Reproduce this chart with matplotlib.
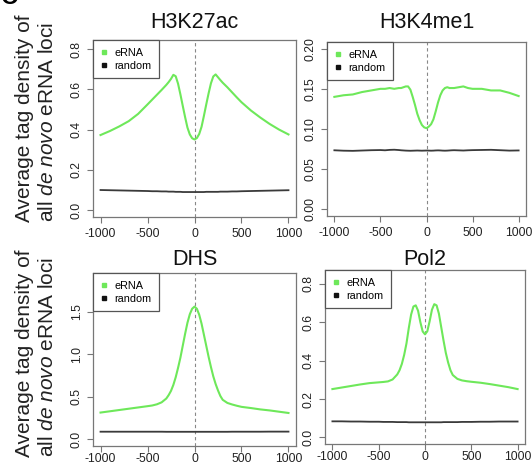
import matplotlib
matplotlib.use("Agg")
import matplotlib.pyplot as plt
from matplotlib.lines import Line2D

plt.rcParams["font.family"] = ["Liberation Sans", "DejaVu Sans"]
plt.rcParams["mathtext.fontset"] = "custom"
plt.rcParams["mathtext.rm"] = "Liberation Sans"
plt.rcParams["mathtext.it"] = "Liberation Sans:italic"
plt.rcParams["axes.unicode_minus"] = False

# Distance from eRNA centre (bp)
positions = [-1000, -900, -800, -700, -600, -500, -450, -400, -350, -300,
             -275, -250, -225, -200, -175, -150, -125, -100, -75, -50, -25,
             0, 25, 50, 75, 100, 125, 150, 175, 200, 225, 250, 275,
             300, 350, 400, 450, 500, 600, 700, 800, 900, 1000]

marks = ["H3K27ac", "H3K4me1", "DHS", "Pol2"]
series_labels = ["eRNA", "random"]

h3k27ac_erna = [0.373, 0.393, 0.416, 0.442, 0.478, 0.525, 0.549, 0.573, 0.597, 0.622,
                0.636, 0.652, 0.672, 0.665, 0.628, 0.575, 0.518, 0.462, 0.410, 0.376, 0.357,
                0.351, 0.358, 0.378, 0.414, 0.468, 0.525, 0.580, 0.630, 0.664, 0.674, 0.660, 0.646,
                0.633, 0.610, 0.585, 0.560, 0.536, 0.495, 0.460, 0.428, 0.400, 0.376]
h3k27ac_random = [0.100, 0.099, 0.098, 0.097, 0.096, 0.095, 0.094, 0.094, 0.093, 0.093,
                  0.092, 0.092, 0.092, 0.091, 0.091, 0.091, 0.090, 0.090, 0.090, 0.090, 0.090,
                  0.090, 0.090, 0.090, 0.090, 0.090, 0.091, 0.091, 0.091, 0.091, 0.091, 0.091, 0.092,
                  0.092, 0.092, 0.093, 0.093, 0.094, 0.095, 0.096, 0.097, 0.098, 0.099]

h3k4me1_erna = [0.140, 0.142, 0.143, 0.146, 0.148, 0.150, 0.150, 0.151, 0.150, 0.151,
                0.151, 0.152, 0.153, 0.153, 0.149, 0.140, 0.130, 0.119, 0.111, 0.105, 0.102,
                0.101, 0.103, 0.106, 0.112, 0.122, 0.133, 0.142, 0.148, 0.151, 0.152, 0.151, 0.151,
                0.151, 0.152, 0.153, 0.151, 0.150, 0.150, 0.148, 0.148, 0.145, 0.141]
h3k4me1_random = [0.0735, 0.0730, 0.0728, 0.0732, 0.0736, 0.0738, 0.0735, 0.0740, 0.0742, 0.0738,
                  0.0735, 0.0733, 0.0731, 0.0730, 0.0729, 0.0730, 0.0731, 0.0732, 0.0731, 0.0730, 0.0731,
                  0.0732, 0.0731, 0.0730, 0.0731, 0.0733, 0.0734, 0.0733, 0.0731, 0.0730, 0.0731, 0.0733, 0.0735,
                  0.0736, 0.0734, 0.0732, 0.0735, 0.0737, 0.0739, 0.0741, 0.0736, 0.0731, 0.0733]

dhs_erna = [0.315, 0.330, 0.345, 0.360, 0.375, 0.390, 0.398, 0.412, 0.435, 0.480,
            0.520, 0.570, 0.640, 0.730, 0.840, 0.960, 1.100, 1.240, 1.370, 1.470, 1.535,
            1.560, 1.535, 1.465, 1.360, 1.230, 1.100, 0.970, 0.850, 0.740, 0.650, 0.575, 0.510,
            0.465, 0.428, 0.410, 0.395, 0.382, 0.368, 0.352, 0.340, 0.325, 0.310]
dhs_random = [0.090, 0.090, 0.090, 0.090, 0.090, 0.090, 0.090, 0.090, 0.090, 0.089,
              0.089, 0.089, 0.089, 0.089, 0.089, 0.089, 0.089, 0.089, 0.089, 0.089, 0.089,
              0.089, 0.089, 0.089, 0.089, 0.089, 0.089, 0.089, 0.089, 0.089, 0.089, 0.089, 0.089,
              0.089, 0.089, 0.090, 0.090, 0.090, 0.090, 0.090, 0.091, 0.091, 0.091]

pol2_erna = [0.252, 0.260, 0.268, 0.276, 0.283, 0.287, 0.289, 0.292, 0.302, 0.328,
             0.350, 0.383, 0.430, 0.490, 0.570, 0.640, 0.682, 0.688, 0.660, 0.600, 0.552,
             0.537, 0.553, 0.605, 0.665, 0.694, 0.688, 0.645, 0.575, 0.505, 0.440, 0.390, 0.350,
             0.325, 0.305, 0.297, 0.293, 0.290, 0.285, 0.278, 0.270, 0.262, 0.252]
pol2_random = [0.084, 0.084, 0.083, 0.083, 0.082, 0.082, 0.081, 0.081, 0.081, 0.080,
               0.080, 0.080, 0.080, 0.080, 0.079, 0.079, 0.079, 0.079, 0.079, 0.079, 0.079,
               0.079, 0.079, 0.079, 0.079, 0.079, 0.079, 0.079, 0.079, 0.080, 0.080, 0.080, 0.080,
               0.080, 0.080, 0.081, 0.081, 0.081, 0.082, 0.082, 0.083, 0.083, 0.083]

y_ticks = [
    [0.0, 0.2, 0.4, 0.6, 0.8],
    [0.00, 0.05, 0.10, 0.15, 0.20],
    [0.0, 0.5, 1.0, 1.5],
    [0.0, 0.2, 0.4, 0.6, 0.8],
]
y_fmt = ["{:.1f}", "{:.2f}", "{:.1f}", "{:.1f}"]
y_limits = [(-0.034, 0.845), (-0.0083, 0.2083), (-0.078, 1.955), (-0.034, 0.872)]
x_ticks = [-1000, -500, 0, 500, 1000]

erna_values = [h3k27ac_erna, h3k4me1_erna, dhs_erna, pol2_erna]
random_values = [h3k27ac_random, h3k4me1_random, dhs_random, pol2_random]

W, H = 532, 467
fig = plt.figure(figsize=(W / 100, H / 100), dpi=100)

# axes boxes in pixels: left, top, right, bottom
boxes = [(93, 40, 296, 217), (327, 42, 526, 216), (93, 273, 296, 446), (325, 270, 525, 444)]
title_base = [28, 28, 265, 265]
x_label_pad = [4, 4, 1.2, 1.2]

GREEN = "#6ee85a"
DARK = "#3a3a3a"
SPINE = "#777777"

for i, (l, t, r, b) in enumerate(boxes):
    ax = fig.add_axes([l / W, 1 - b / H, (r - l) / W, (b - t) / H])
    ax.plot(positions, random_values[i], color=DARK, lw=1.3, zorder=3)
    ax.plot(positions, erna_values[i], color=GREEN, lw=1.5, zorder=4)
    ax.axvline(0, color="#888888", lw=0.8, ls=(0, (3, 2.5)), zorder=2)
    ax.set_xlim(-1080, 1080)
    ax.set_ylim(*y_limits[i])
    ax.set_xticks(x_ticks)
    ax.set_xticklabels([str(v) for v in x_ticks])
    ax.set_yticks(y_ticks[i])
    ax.set_yticklabels([y_fmt[i].format(v) for v in y_ticks[i]],
                       rotation=90, va="center", ha="right")
    ax.tick_params(direction="out", length=4.2, width=0.8, color=SPINE,
                   labelsize=8.8, labelcolor="#222222", pad=3)
    ax.tick_params(axis="x", pad=x_label_pad[i])
    for sp in ax.spines.values():
        sp.set_color(SPINE)
        sp.set_linewidth(0.9)
    handles = [
        Line2D([], [], marker="s", ls="none", markersize=3.5,
               markerfacecolor=GREEN, markeredgecolor=GREEN),
        Line2D([], [], marker="s", ls="none", markersize=3.5,
               markerfacecolor="#111111", markeredgecolor="#111111"),
    ]
    leg = ax.legend(handles, series_labels, loc="upper left", bbox_to_anchor=(0, 1),
                    borderaxespad=0, fancybox=False, framealpha=1, edgecolor="#555555",
                    fontsize=7.8, handlelength=0.6, handletextpad=0.7, borderpad=0.7,
                    labelspacing=0.3)
    leg.get_frame().set_linewidth(0.9)
    fig.text((l + r) / 2 / W, 1 - title_base[i] / H, marks[i], ha="center",
             va="baseline", fontsize=15.5, color="#111111")

# shared y-axis label, one per row
for y_end in (222, 457):
    fig.text(30 / W, 1 - y_end / H, "Average tag density of", rotation=90,
             rotation_mode="anchor", ha="left", va="baseline", fontsize=15, color="#222222")
    fig.text(53 / W, 1 - y_end / H, r"all $\mathit{de\ novo}$ eRNA loci", rotation=90,
             rotation_mode="anchor", ha="left", va="baseline", fontsize=15, color="#222222")

# panel letter
fig.text(10 / W, 1 - 4 / H, "C", ha="center", va="baseline", fontsize=17,
         fontweight="bold", color="black")

fig.savefig("out.png", dpi=100)
